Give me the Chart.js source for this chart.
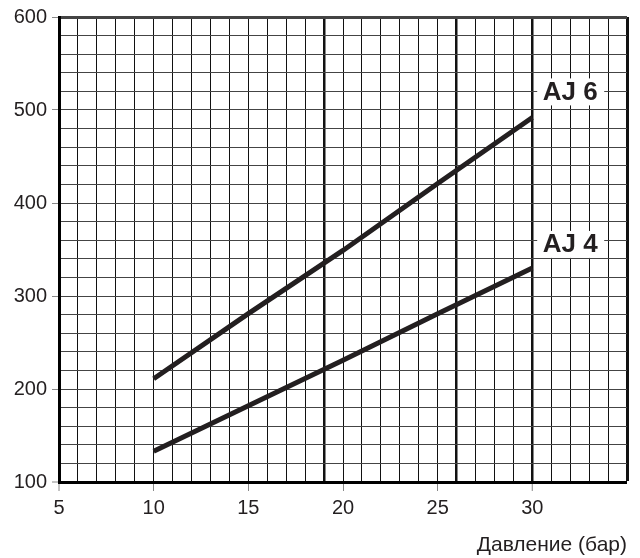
<!DOCTYPE html>
<html>
<head>
<meta charset="utf-8">
<script src="https://cdn.jsdelivr.net/npm/chart.js@4"></script>
<style>
html,body{margin:0;padding:0;background:#fff;}
#wrap{width:640px;height:558px;}
</style>
</head>
<body>
<div id="wrap"><canvas id="c" width="640" height="558"></canvas></div>
<script>
const pressure = [10, 15, 20, 25, 30];
const aj6 = [211, 281, 349, 421, 492];
const aj4 = [133, 182, 231, 281, 330];
const seriesNames = ['AJ 6', 'AJ 4'];
const labelAnchors = [{x: 32, y: 520}, {x: 32, y: 356}];
const xTitle = 'Давление (бар)';
const thickX = [19, 26, 30];

const FONT = "'Liberation Sans', Arial, sans-serif";
const INK = '#231f20';

const labelPlugin = {
  id: 'seriesLabels',
  afterDatasetsDraw(chart) {
    const {ctx, scales} = chart;
    ctx.save();
    ctx.font = "bold 26px " + FONT;
    ctx.textAlign = 'center';
    ctx.textBaseline = 'middle';
    seriesNames.forEach((name, i) => {
      const px = scales.x.getPixelForValue(labelAnchors[i].x);
      const py = scales.y.getPixelForValue(labelAnchors[i].y);
      ctx.fillStyle = '#fff';
      ctx.fillRect(px - 33, py - 13, 67, 27);
      ctx.fillStyle = INK;
      ctx.fillText(name, px, py + 1);
    });
    ctx.restore();
  }
};

new Chart(document.getElementById('c'), {
  type: 'line',
  data: {
    datasets: [
      {label: seriesNames[0], data: pressure.map((p, i) => ({x: p, y: aj6[i]}))},
      {label: seriesNames[1], data: pressure.map((p, i) => ({x: p, y: aj4[i]}))}
    ].map(d => Object.assign(d, {
      borderColor: INK, borderWidth: 5, pointRadius: 0, tension: 0,
      borderCapStyle: 'butt', fill: false
    }))
  },
  options: {
    responsive: false,
    animation: false,
    layout: {padding: {top: 13, right: 13, left: 0, bottom: 0}},
    plugins: {legend: {display: false}, tooltip: {enabled: false}},
    scales: {
      x: {
        type: 'linear', min: 5, max: 35,
        afterFit: s => { s.height = 76; },
        ticks: {
          stepSize: 1, autoSkip: false, maxRotation: 0, padding: 5,
          color: INK, font: {family: FONT, size: 20},
          callback: v => (v % 5 === 0 && v < 35) ? String(v) : ''
        },
        grid: {
          color: '#111',
          lineWidth: c => {
            const v = c.tick ? c.tick.value : null;
            if (v === 35) return 3;
            if (v === 5) return 0;
            return thickX.includes(v) ? 2.5 : 1;
          },
          tickLength: 9, tickWidth: 1,
          tickColor: c => (c.tick && c.tick.value % 5 === 0 && c.tick.value < 35) ? '#888' : 'rgba(0,0,0,0)'
        },
        border: {display: true, width: 3, color: '#000'},
        title: {display: true, text: xTitle, align: 'end', color: INK,
                font: {family: FONT, size: 21}, padding: 0}
      },
      y: {
        type: 'linear', min: 100, max: 600,
        afterFit: s => { s.width = 59; },
        ticks: {
          stepSize: 20, autoSkip: false, padding: 5,
          color: INK, font: {family: FONT, size: 20},
          callback: v => (v % 100 === 0) ? String(v) : ''
        },
        grid: {
          color: '#444',
          lineWidth: c => {
            const v = c.tick ? c.tick.value : null;
            if (v === 600) return 3;
            if (v === 100) return 0;
            return 1;
          },
          tickLength: 7, tickWidth: 1,
          tickColor: c => (c.tick && c.tick.value % 100 === 0) ? '#888' : 'rgba(0,0,0,0)'
        },
        border: {display: true, width: 3, color: '#000'}
      }
    }
  },
  plugins: [labelPlugin]
});
</script>
</body>
</html>
